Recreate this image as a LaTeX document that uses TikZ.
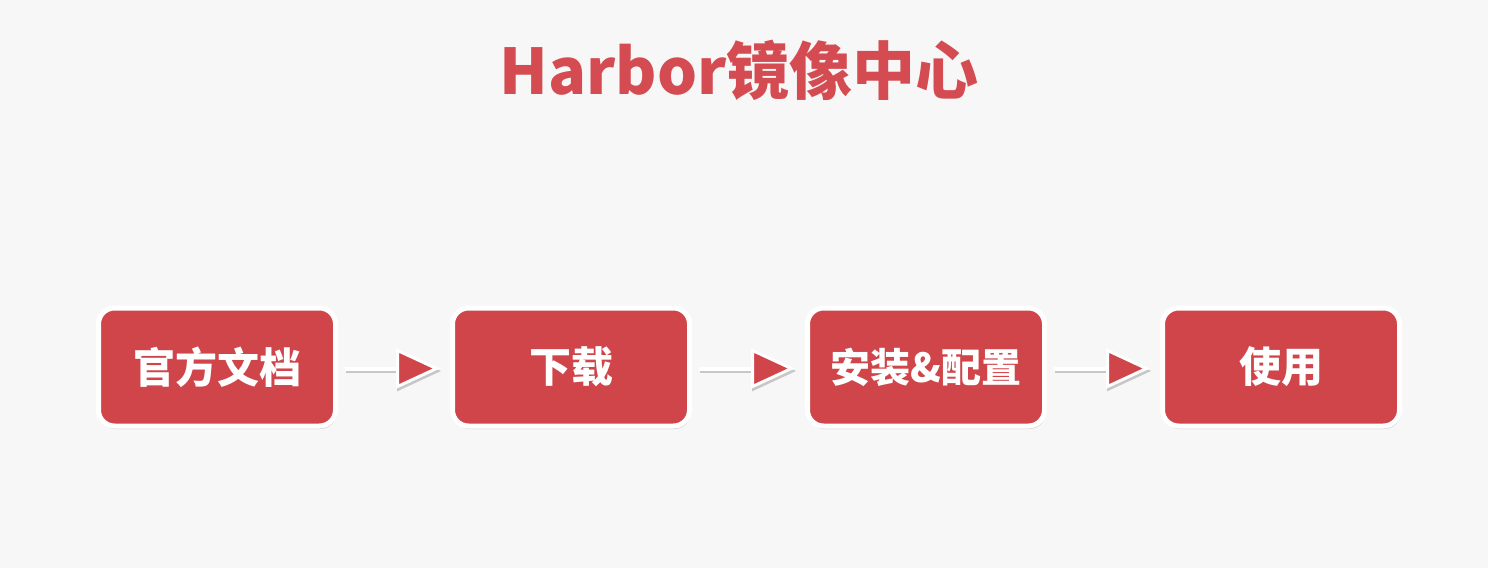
\documentclass[tikz,border=0pt]{standalone}
\usepackage{fontspec}
\newfontfamily\cjk{Noto Sans CJK SC}
\definecolor{bg}{RGB}{247,247,247}
\definecolor{rd}{RGB}{207,69,73}
\definecolor{tr}{RGB}{212,76,82}
\usetikzlibrary{arrows.meta}
\usetikzlibrary{shadows}

\begin{document}
\begin{tikzpicture}[
      x=1pt, y=-1pt,
      every node/.style={font=\cjk\bfseries},
      box/.style={fill=rd, draw=white, line width=5pt, rounded corners=16pt,
        minimum width=237pt, minimum height=118pt, text=white, inner sep=0pt,
        drop shadow={shadow xshift=1pt, shadow yshift=-3pt, opacity=.3}},
      flow/.style={draw=white, line width=4pt,
        -{Triangle[length=44pt, width=40pt, fill=rd, line width=3pt]}},
      flowshadow/.style={draw=black!22, line width=4pt,
        -{Triangle[length=44pt, width=40pt, fill=black!22, line width=3pt]},
        transform canvas={xshift=1pt, yshift=-2.5pt}}]

        \fill[bg] (0,0) rectangle (1488,568);
        \useasboundingbox (0,0) rectangle (1488,568);

        {\fontsize{63}{63}\selectfont
        \node[text=tr] (title) at (739,70) {Harbor镜像中心};
        }

        {\fontsize{42}{42}\selectfont
        \node[box] (docs)    at (217 ,367) {官方文档};
        \node[box] (fetch)   at (571 ,367) {下载};
        \node[box] (install) at (926 ,367) {\fontsize{40}{40}\selectfont 安装\&配置};
        \node[box] (use)     at (1281,367) {使用};
        }

        % steps
        \foreach \a/\b in {docs/fetch, fetch/install, install/use}
          {
          \draw[flowshadow] ([xshift=7pt,yshift=-1.5pt]\a.east) -- ([xshift=-10pt,yshift=-1.5pt]\b.west);
          \draw[flow] ([xshift=7pt,yshift=-1.5pt]\a.east) -- ([xshift=-10pt,yshift=-1.5pt]\b.west);
          }

      \end{tikzpicture}
\end{document}
